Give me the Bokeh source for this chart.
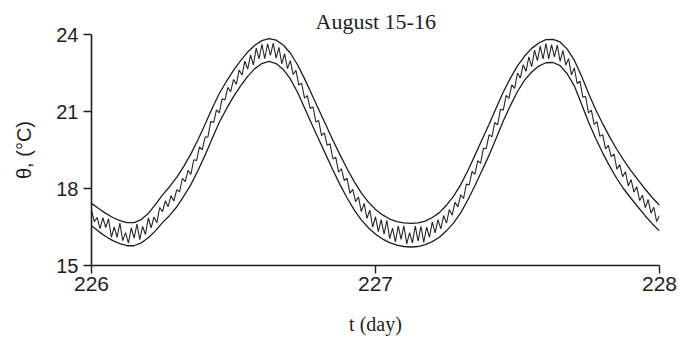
from bokeh.plotting import figure
from bokeh.models import Range1d, FixedTicker, Title
from bokeh.embed import file_html
from bokeh.resources import INLINE

# ---- data ----
env_days = [226.000, 226.025, 226.050, 226.075, 226.100, 226.125, 226.150, 226.175, 226.200, 226.225,
            226.250, 226.275, 226.300, 226.325, 226.350, 226.375, 226.400, 226.425, 226.450, 226.475,
            226.500, 226.525, 226.550, 226.575, 226.600, 226.625, 226.650, 226.675, 226.700, 226.725,
            226.750, 226.775, 226.800, 226.825, 226.850, 226.875, 226.900, 226.925, 226.950, 226.975,
            227.000, 227.025, 227.050, 227.075, 227.100, 227.125, 227.150, 227.175, 227.200, 227.225,
            227.250, 227.275, 227.300, 227.325, 227.350, 227.375, 227.400, 227.425, 227.450, 227.475,
            227.500, 227.525, 227.550, 227.575, 227.600, 227.625, 227.650, 227.675, 227.700, 227.725,
            227.750, 227.775, 227.800, 227.825, 227.850, 227.875, 227.900, 227.925, 227.950, 227.975,
            228.000]
upper_env = [17.42, 17.22, 17.03, 16.87, 16.75, 16.67, 16.67, 16.79, 17.03, 17.37,
             17.75, 18.07, 18.43, 18.86, 19.35, 19.90, 20.50, 21.13, 21.70, 22.17,
             22.60, 22.98, 23.32, 23.58, 23.76, 23.84, 23.78, 23.59, 23.28, 22.83,
             22.28, 21.68, 21.08, 20.48, 19.88, 19.31, 18.77, 18.27, 17.83, 17.47,
             17.18, 16.97, 16.81, 16.71, 16.66, 16.64, 16.66, 16.73, 16.87, 17.06,
             17.35, 17.70, 18.15, 18.69, 19.29, 19.90, 20.50, 21.14, 21.76, 22.30,
             22.78, 23.16, 23.46, 23.67, 23.80, 23.81, 23.71, 23.43, 23.00, 22.39,
             21.71, 21.08, 20.52, 20.00, 19.52, 19.09, 18.69, 18.33, 17.97, 17.64,
             17.35]
lower_env = [16.55, 16.33, 16.13, 15.97, 15.85, 15.77, 15.77, 15.88, 16.08, 16.35,
             16.67, 16.95, 17.28, 17.70, 18.15, 18.70, 19.30, 19.95, 20.58, 21.10,
             21.58, 22.00, 22.37, 22.67, 22.87, 22.95, 22.87, 22.64, 22.27, 21.76,
             21.15, 20.52, 19.92, 19.32, 18.72, 18.15, 17.63, 17.17, 16.78, 16.47,
             16.22, 16.03, 15.89, 15.79, 15.74, 15.72, 15.74, 15.81, 15.93, 16.10,
             16.35, 16.66, 17.05, 17.55, 18.11, 18.70, 19.30, 19.96, 20.63, 21.23,
             21.78, 22.22, 22.54, 22.77, 22.90, 22.91, 22.79, 22.47, 22.00, 21.30,
             20.59, 19.96, 19.38, 18.86, 18.38, 17.97, 17.61, 17.27, 16.93, 16.62,
             16.35]

meas_start = 226.00
meas_step = 0.01
measured = [
    17.15, 16.71, 16.87, 16.44, 16.86, 16.48, 16.82, 16.10, 16.50, 16.10,
    16.65, 15.97, 16.28, 15.87, 16.47, 16.07, 16.61, 16.01, 16.52, 16.21,
    16.85, 16.47, 16.89, 16.67, 17.26, 17.10, 17.52, 17.29, 17.72, 17.51,
    17.95, 17.87, 18.39, 18.27, 18.71, 18.55, 19.12, 19.09, 19.62, 19.51,
    20.00, 20.01, 20.62, 20.57, 21.06, 20.95, 21.50, 21.45, 21.94, 21.77,
    22.25, 22.06, 22.62, 22.42, 22.96, 22.65, 23.21, 22.82, 23.47, 23.05,
    23.62, 23.06, 23.64, 23.19, 23.66, 23.08, 23.50, 22.86, 23.25, 22.67,
    22.98, 22.44, 22.60, 22.03, 22.10, 21.52, 21.62, 21.12, 21.18, 20.59,
    20.65, 20.06, 20.17, 19.68, 19.74, 19.15, 19.22, 18.64, 18.77, 18.31,
    18.40, 17.81, 17.97, 17.49, 17.67, 17.10, 17.42, 16.84, 17.16, 16.50,
    16.90, 16.32, 16.79, 16.22, 16.76, 16.05, 16.46, 15.92, 16.54, 16.02,
    16.55, 15.84, 16.28, 15.88, 16.54, 15.95, 16.53, 15.90, 16.50, 16.10,
    16.70, 16.27, 16.79, 16.43, 16.94, 16.65, 17.18, 16.96, 17.47, 17.28,
    17.75, 17.61, 18.17, 18.14, 18.67, 18.55, 19.09, 18.98, 19.57, 19.56,
    20.10, 20.01, 20.57, 20.48, 21.09, 21.05, 21.63, 21.51, 22.04, 21.90,
    22.50, 22.31, 22.82, 22.56, 23.13, 22.75, 23.39, 22.98, 23.55, 23.05,
    23.65, 23.05, 23.61, 23.13, 23.59, 22.95, 23.38, 22.81, 23.06, 22.43,
    22.70, 22.09, 22.18, 21.56, 21.58, 20.95, 21.05, 20.50, 20.60, 20.03,
    20.10, 19.54, 19.68, 19.24, 19.34, 18.75, 18.93, 18.46, 18.65, 18.10,
    18.35, 17.86, 18.07, 17.53, 17.74, 17.25, 17.57, 17.04, 17.27, 16.71,
    16.95]
meas_days = [meas_start + i * meas_step for i in range(len(measured))]

y_ticks = [15, 18, 21, 24]
x_ticks = [226, 227, 228]
title_text = "August 15-16"
x_label = "t (day)"
y_label = "θ, (°C)"

ink = "#1e1e1e"

# ---- figure ----
p = figure(width=679, height=339, output_backend="svg", toolbar_location=None,
           x_range=Range1d(226, 228), y_range=Range1d(15, 24),
           min_border_left=91, min_border_right=20, min_border_top=34, min_border_bottom=74)
p.outline_line_color = None
p.xgrid.visible = False
p.ygrid.visible = False
p.background_fill_color = "white"
p.border_fill_color = "white"

p.title = Title(text=title_text, align="left", offset=224, standoff=2,
                text_font="Liberation Serif", text_font_style="normal",
                text_font_size="22px", text_color=ink)

p.line(env_days, upper_env, line_color=ink, line_width=1.3)
p.line(env_days, lower_env, line_color=ink, line_width=1.3)
p.line(meas_days, measured, line_color="#262626", line_width=1.1)

for ax in (p.xaxis[0], p.yaxis[0]):
    ax.axis_line_color = ink
    ax.axis_line_width = 1.6
    ax.major_tick_line_color = ink
    ax.major_tick_line_width = 1.4
    ax.major_tick_out = 8
    ax.major_tick_in = 0
    ax.minor_tick_line_color = None
    ax.major_label_text_font = "Liberation Sans"
    ax.major_label_text_color = ink

p.xaxis.ticker = FixedTicker(ticks=x_ticks)
p.yaxis.ticker = FixedTicker(ticks=y_ticks)
p.xaxis.major_label_text_font_size = "21px"
p.yaxis.major_label_text_font_size = "20px"
p.xaxis.major_label_standoff = 3
p.yaxis.major_label_standoff = 5

p.yaxis.axis_label = y_label
p.yaxis.axis_label_text_font = "Liberation Sans"
p.yaxis.axis_label_text_font_style = "normal"
p.yaxis.axis_label_text_font_size = "20px"
p.yaxis.axis_label_text_color = ink
p.yaxis.axis_label_standoff = 18

p.xaxis.axis_label = x_label
p.xaxis.axis_label_text_font = "Liberation Serif"
p.xaxis.axis_label_text_font_style = "normal"
p.xaxis.axis_label_text_font_size = "20px"
p.xaxis.axis_label_text_color = ink
p.xaxis.axis_label_standoff = 19

open("out.html", "w").write(file_html(p, INLINE))
